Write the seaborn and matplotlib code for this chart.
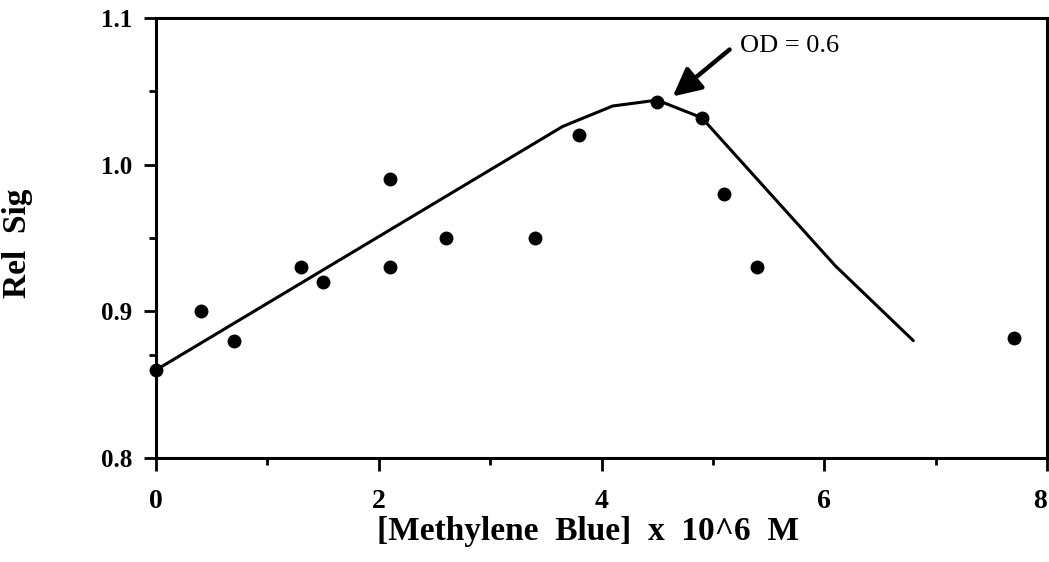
import matplotlib
matplotlib.use("Agg")
import matplotlib.pyplot as plt
import seaborn as sns
import pandas as pd

# Measured points
conc = [0.0, 0.4, 0.7, 1.3, 1.5, 2.1, 2.1, 2.6, 3.4, 3.8, 4.5, 4.9, 5.1, 5.4, 7.7]
rel_sig = [0.86, 0.90, 0.88, 0.93, 0.92, 0.99, 0.93, 0.95, 0.95, 1.02, 1.043, 1.032, 0.98, 0.93, 0.882]

# Trend curve
curve_x = [0.0, 3.65, 4.1, 4.5, 4.9, 6.1, 6.8]
curve_y = [0.86, 1.026, 1.040, 1.044, 1.032, 0.931, 0.88]

x_ticks = [0, 2, 4, 6, 8]
y_ticks = [0.8, 0.9, 1.0, 1.1]
x_minor = [1, 3, 5, 7]
y_minor = [0.87, 0.95, 1.05]

sns.set_style("ticks")
plt.rcParams["font.family"] = ["Liberation Serif", "DejaVu Serif"]
plt.rcParams.update({"text.color": "black", "axes.labelcolor": "black",
                     "xtick.color": "black", "ytick.color": "black"})

fig = plt.figure(figsize=(10.49, 5.62), dpi=100)
ax = fig.add_axes([156 / 1049, 1 - 458 / 562, (1047 - 156) / 1049, (458 - 18) / 562])

pts = pd.DataFrame({"conc": conc, "rel": rel_sig})
line = pd.DataFrame({"conc": curve_x, "rel": curve_y})

sns.lineplot(data=line, x="conc", y="rel", ax=ax, color="black", linewidth=2.2,
             sort=False, estimator=None, zorder=2)
sns.scatterplot(data=pts, x="conc", y="rel", ax=ax, color="black", s=100,
                edgecolor="black", linewidth=0, zorder=3, clip_on=False)

ax.set_xlim(0, 8)
ax.set_ylim(0.8, 1.1)
ax.set_xticks(x_ticks)
ax.set_xticks(x_minor, minor=True)
ax.set_yticks(y_ticks)
ax.set_yticks(y_minor, minor=True)
ax.set_xticklabels([str(v) for v in x_ticks])
ax.set_yticklabels([f"{v:.1f}" for v in y_ticks])

for s in ax.spines.values():
    s.set_linewidth(2.2)
    s.set_color("black")
    s.set_visible(True)

ax.tick_params(axis="both", which="major", length=9, width=2, color="black",
               direction="out")
ax.tick_params(axis="y", which="major", labelsize=18, pad=8)
ax.tick_params(axis="x", which="major", labelsize=20, pad=13)
ax.tick_params(axis="both", which="minor", length=5, width=2, color="black",
               direction="out")
for lab in ax.get_xticklabels() + ax.get_yticklabels():
    lab.set_fontweight("bold")
# keep the last x label inside the figure edge
ax.get_xticklabels()[-1].set_horizontalalignment("right")

ax.set_xlabel("[Methylene  Blue]  x  10^6  M", fontsize=24, fontweight="bold")
ax.set_ylabel("Rel  Sig", fontsize=24, fontweight="bold")
ax.xaxis.set_label_coords(0.485, -0.131)
ax.yaxis.set_label_coords(-0.138, 0.489)

ax.text(5.24, 1.081, "OD = 0.6", fontsize=19, va="center", ha="left")
ax.annotate("", xy=(4.64, 1.0465), xytext=(5.15, 1.0785),
            arrowprops=dict(arrowstyle="-|>,head_length=1.7,head_width=0.85",
                            mutation_scale=10, color="black", lw=3.2,
                            shrinkA=0, shrinkB=0))

fig.savefig("out.png", dpi=100, facecolor="white")
